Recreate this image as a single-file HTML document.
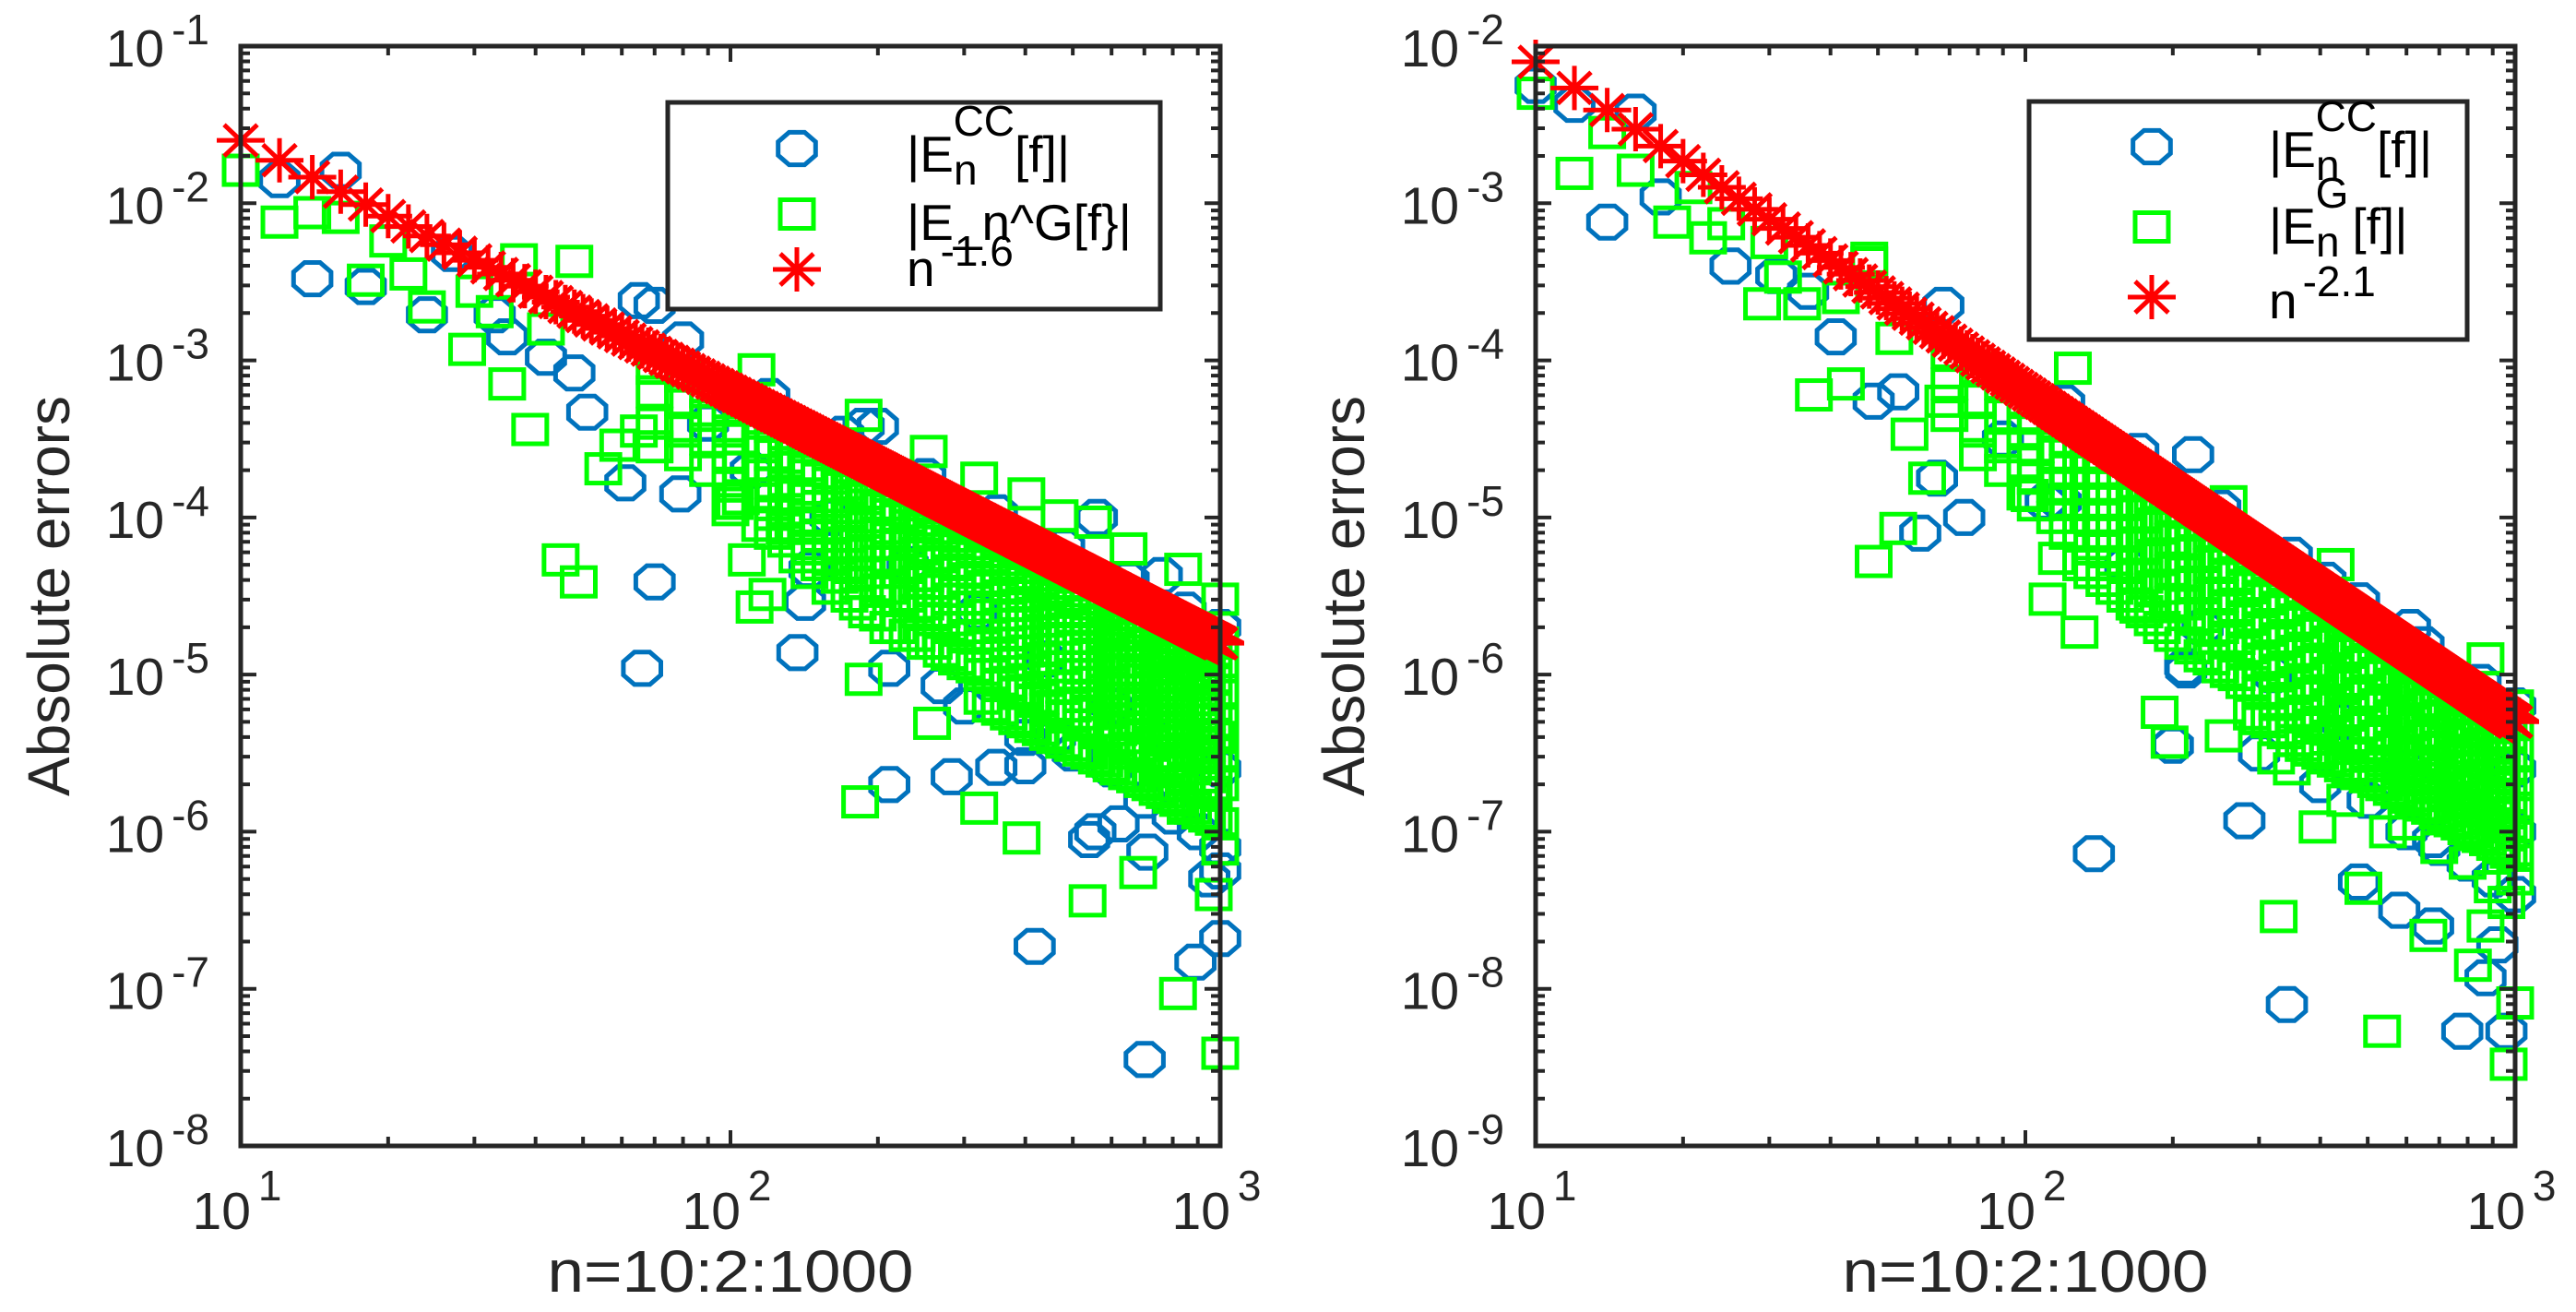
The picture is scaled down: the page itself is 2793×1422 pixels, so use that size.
<!DOCTYPE html>
<html>
<head>
<meta charset="utf-8">
<style>
html,body{margin:0;padding:0;background:#fff;}
svg{display:block;font-family:"Liberation Sans",Arial,sans-serif;}
</style>
</head>
<body>
<svg id="fig" width="2793" height="1422" viewBox="0 0 2793 1422" xmlns="http://www.w3.org/2000/svg">
  <rect x="0" y="0" width="2793" height="1422" fill="#fff"/>
  <g id="panelL"></g>
  <g id="panelR"></g>
</svg>
<script>
// ---------- data (log10 of absolute error) ----------
const leftYTicks = [-1,-2,-3,-4,-5,-6,-7,-8];
const rightYTicks = [-2,-3,-4,-5,-6,-7,-8,-9];
const xTickExps = [1,2,3];
const leftRefExponent = 1.6;
const rightRefExponent = 2.1;

const leftCC = [[12,-1.85],[16,-1.79],[14,-2.48],[18,-2.53],[24,-2.71],[27,-2.32],[33,-2.71],[35,-2.85],[42,-2.98],[48,-3.08],[51,-3.33],[70,-2.65],[61,-3.78],[79,-3.85],[70,-4.41],[66,-4.96],[137,-4.86],[142,-4.54],[145,-4.33],[211,-5.70],[283,-5.65],[349,-5.59],[418,-6.73],[556,-6.0],[701,-7.45],[890,-6.83],[1000,-6.68],[1000,-6.25],[710,-6.13],[211,-4.96],[270,-5.07],[400,-5.58],[460,-5.4],[80,-2.87],[65,-2.62],[187,-3.42],[200,-3.42],[560,-4.0],[760,-4.37],
[300,-5.2],[400,-5.4],[500,-5.5],[600,-5.6],[700,-5.8],[800,-5.9],[900,-6.0],[1000,-6.1],[540,-6.05],[620,-5.95],[950,-6.3],
[120,-3.23],[170,-3.47],[250,-3.74],[350,-3.97],[480,-4.19],[650,-4.40],[850,-4.59],[1000,-4.70],[90,-3.4],[110,-3.7],[160,-4.0],[230,-4.3],[320,-4.6],[440,-4.9],[600,-5.2],[800,-5.4],[1000,-5.6]];

const leftG = [[10,-1.79],[12,-2.12],[14,-2.06],[16,-2.09],[20,-2.24],[18,-2.49],[22,-2.45],[24,-2.66],[30,-2.56],[33,-2.69],[29,-2.93],[35,-3.15],[39,-3.44],[37,-2.36],[48,-2.37],[42,-2.8],[55,-3.69],[59,-3.54],[65,-3.45],[45,-4.27],[49,-4.41],[102,-3.91],[108,-4.27],[112,-4.57],[119,-4.49],[129,-4.07],[187,-5.03],[258,-5.31],[184,-5.81],[322,-5.85],[393,-6.04],[536,-6.44],[680,-6.26],[820,-7.03],[1000,-7.41],[1000,-6.11],[970,-6.4],[850,-5.85],[187,-3.35],[113,-3.06],[254,-3.58],[322,-3.75],[402,-3.85],[470,-3.99],[550,-4.03],[650,-4.2],[840,-4.33],[1000,-4.52],
[70,-3.05],[70,-3.2],[70,-3.4],[70,-3.55],[80,-3.1],[80,-3.25],[80,-3.45],[80,-3.6],[90,-3.2],[90,-3.35],[90,-3.5],[90,-3.7],
[100,-3.3],[100,-3.45],[100,-3.6],[100,-3.8],[100,-3.95],[115,-3.4],[115,-3.55],[115,-3.7],[115,-3.85],[115,-4.05],
[130,-3.5],[130,-3.65],[130,-3.8],[130,-3.95],[130,-4.15],[145,-3.55],[145,-3.7],[145,-3.85],[145,-4.0],[145,-4.2],[145,-4.35],
[160,-3.6],[160,-3.75],[160,-3.9],[160,-4.05],[160,-4.25],[160,-4.45],[175,-3.68],[175,-3.82],[175,-3.97],[175,-4.12],[175,-4.3],[175,-4.5],
[190,-3.74],[190,-3.88],[190,-4.03],[190,-4.18],[190,-4.35],[190,-4.6],[210,-3.8],[210,-3.95],[210,-4.1],[210,-4.25],[210,-4.45],[210,-4.7],
[230,-3.87],[230,-4.0],[230,-4.15],[230,-4.3],[230,-4.5],[230,-4.75],[250,-3.92],[250,-4.05],[250,-4.2],[250,-4.37],[250,-4.55],[250,-4.8],
[270,-3.97],[270,-4.1],[270,-4.25],[270,-4.42],[270,-4.6],[270,-4.85],[290,-4.02],[290,-4.15],[290,-4.3],[290,-4.47],[290,-4.65],[290,-4.9],
[315,-4.07],[315,-4.2],[315,-4.35],[315,-4.52],[315,-4.7],[315,-4.95],[340,-4.12],[340,-4.25],[340,-4.4],[340,-4.57],[340,-4.75],[340,-5.0],[340,-5.2],
[370,-4.18],[370,-4.3],[370,-4.45],[370,-4.62],[370,-4.8],[370,-5.05],[370,-5.25],[400,-4.23],[400,-4.36],[400,-4.5],[400,-4.67],[400,-4.85],[400,-5.1],[400,-5.3],
[430,-4.28],[430,-4.4],[430,-4.55],[430,-4.72],[430,-4.9],[430,-5.15],[430,-5.35],[460,-4.33],[460,-4.45],[460,-4.6],[460,-4.77],[460,-4.95],[460,-5.2],[460,-5.4],
[500,-4.38],[500,-4.5],[500,-4.65],[500,-4.82],[500,-5.0],[500,-5.2],[500,-5.45],[540,-4.43],[540,-4.55],[540,-4.7],[540,-4.87],[540,-5.05],[540,-5.25],[540,-5.5],
[580,-4.48],[580,-4.6],[580,-4.75],[580,-4.92],[580,-5.1],[580,-5.3],[580,-5.55],[620,-4.52],[620,-4.65],[620,-4.8],[620,-4.97],[620,-5.15],[620,-5.35],[620,-5.6],
[670,-4.57],[670,-4.7],[670,-4.85],[670,-5.0],[670,-5.2],[670,-5.4],[670,-5.65],[720,-4.62],[720,-4.75],[720,-4.9],[720,-5.05],[720,-5.25],[720,-5.45],[720,-5.7],
[770,-4.66],[770,-4.8],[770,-4.95],[770,-5.1],[770,-5.3],[770,-5.5],[770,-5.75],[820,-4.7],[820,-4.83],[820,-5.0],[820,-5.15],[820,-5.35],[820,-5.55],[820,-5.8],
[880,-4.74],[880,-4.87],[880,-5.03],[880,-5.2],[880,-5.4],[880,-5.6],[880,-5.85],[940,-4.77],[940,-4.9],[940,-5.06],[940,-5.25],[940,-5.45],[940,-5.65],[940,-5.9],
[1000,-4.8],[1000,-4.95],[1000,-5.1],[1000,-5.3],[1000,-5.5],[1000,-5.7],[1000,-5.95],
[600,-4.9],[700,-5.1],[800,-5.25],[900,-5.5],[960,-5.75],[650,-5.5],[750,-5.6],[850,-5.7],[980,-5.4]];

const leftGExtraN = [105,122,137,152,167,182,200,220,240,260,280,302,327,355,385,415,445,480,520,560,600,645,695,745,795,850,910,970];
const leftGExtraVals = [[-3.3,-3.5,-3.68,-3.88],[-3.42,-3.6,-3.78,-3.98,-4.1],[-3.5,-3.68,-3.86,-4.05,-4.25],[-3.57,-3.75,-3.93,-4.12,-4.3],[-3.63,-3.8,-3.98,-4.17,-4.38],[-3.7,-3.87,-4.05,-4.23,-4.42,-4.55],[-3.76,-3.93,-4.1,-4.28,-4.47,-4.62],[-3.83,-4.0,-4.17,-4.35,-4.53,-4.7],[-3.89,-4.06,-4.23,-4.41,-4.6,-4.75],[-3.94,-4.11,-4.28,-4.46,-4.65,-4.8],[-4.0,-4.17,-4.34,-4.52,-4.7,-4.87],[-4.05,-4.22,-4.39,-4.57,-4.76,-4.93],[-4.1,-4.27,-4.44,-4.62,-4.82,-5.0,-5.15],[-4.16,-4.33,-4.5,-4.68,-4.88,-5.07,-5.22],[-4.22,-4.39,-4.56,-4.74,-4.93,-5.12,-5.28],[-4.27,-4.44,-4.61,-4.79,-4.98,-5.17,-5.33],[-4.32,-4.49,-4.66,-4.84,-5.03,-5.22,-5.38],[-4.37,-4.54,-4.71,-4.89,-5.08,-5.27,-5.43],[-4.43,-4.6,-4.77,-4.95,-5.14,-5.32,-5.48],[-4.48,-4.65,-4.82,-5.0,-5.19,-5.37,-5.53],[-4.53,-4.7,-4.87,-5.05,-5.24,-5.42,-5.58],[-4.58,-4.75,-4.92,-5.1,-5.29,-5.47,-5.63],[-4.63,-4.8,-4.97,-5.15,-5.34,-5.52,-5.68],[-4.68,-4.85,-5.02,-5.2,-5.39,-5.57,-5.73],[-4.72,-4.89,-5.06,-5.24,-5.43,-5.61,-5.78],[-4.77,-4.94,-5.11,-5.29,-5.48,-5.66,-5.83],[-4.82,-4.99,-5.16,-5.34,-5.53,-5.71,-5.88],[-4.86,-5.03,-5.2,-5.38,-5.57,-5.75,-5.92]];

const rightCC = [[12,-2.37],[16,-2.42],[14,-3.12],[18,-2.96],[25,-3.4],[31,-3.46],[36,-3.56],[41,-3.85],[49,-4.26],[55,-4.2],[68,-3.65],[61,-5.1],[75,-5.0],[66,-4.75],[138,-7.14],[200,-6.45],[212,-5.95],[213,-5.97],[280,-6.93],[342,-8.1],[480,-7.32],[680,-7.6],[920,-7.72],[780,-8.27],[960,-8.27],[870,-7.93],[680,-7.05],[580,-7.5],[118,-4.9],[220,-4.6],[410,-5.4],[610,-5.7],[1000,-6.2],[1000,-6.6],
[300,-6.5],[400,-6.7],[500,-6.8],[600,-7.0],[700,-7.1],[800,-7.2],[900,-7.3],[1000,-7.4],[10,-2.25],
[120,-4.27],[170,-4.58],[250,-4.94],[350,-5.24],[480,-5.53],[650,-5.81],[850,-6.05],[1000,-6.2],[90,-4.5],[110,-4.9],[160,-5.3],[230,-5.7],[320,-6.0],[440,-6.3],[600,-6.6],[800,-6.85],[1000,-7.0]];

const rightG = [[10,-2.30],[12,-2.81],[14,-2.55],[16,-2.79],[19,-3.12],[21,-2.9],[22.5,-3.22],[24.5,-3.13],[30,-3.25],[32,-3.47],[29,-3.64],[35,-3.64],[42,-3.6],[48,-3.38],[37,-4.22],[43,-4.15],[54,-3.86],[58,-4.47],[68,-4.26],[63,-4.75],[55,-5.07],[49,-5.28],[102,-4.86],[111,-5.52],[116,-5.26],[129,-5.73],[170,-5.57],[188,-6.24],[197,-6.43],[254,-6.39],[325,-6.53],[329,-7.54],[395,-6.97],[490,-7.36],[535,-8.27],[665,-7.66],[820,-7.85],[970,-8.48],[1000,-8.09],[1000,-7.3],[870,-7.6],[125,-4.05],[260,-4.9],[430,-5.3],[870,-5.9],[1000,-6.2],[48,-3.35],
[70,-3.95],[70,-4.15],[70,-4.35],[80,-4.05],[80,-4.25],[80,-4.45],[80,-4.6],[90,-4.15],[90,-4.35],[90,-4.55],[90,-4.7],
[100,-4.25],[100,-4.45],[100,-4.65],[100,-4.85],[115,-4.4],[115,-4.6],[115,-4.8],[115,-5.0],
[130,-4.5],[130,-4.7],[130,-4.9],[130,-5.1],[130,-5.3],[145,-4.6],[145,-4.8],[145,-5.0],[145,-5.2],[145,-5.4],
[160,-4.7],[160,-4.9],[160,-5.1],[160,-5.3],[160,-5.5],[175,-4.78],[175,-4.98],[175,-5.18],[175,-5.38],[175,-5.6],
[190,-4.85],[190,-5.05],[190,-5.25],[190,-5.45],[190,-5.7],[210,-4.95],[210,-5.15],[210,-5.35],[210,-5.55],[210,-5.8],
[230,-5.03],[230,-5.23],[230,-5.43],[230,-5.63],[230,-5.88],[250,-5.1],[250,-5.3],[250,-5.5],[250,-5.7],[250,-5.95],
[270,-5.17],[270,-5.37],[270,-5.57],[270,-5.77],[270,-6.0],[290,-5.23],[290,-5.43],[290,-5.63],[290,-5.83],[290,-6.05],[290,-6.25],
[315,-5.3],[315,-5.5],[315,-5.7],[315,-5.9],[315,-6.1],[315,-6.3],[340,-5.37],[340,-5.57],[340,-5.77],[340,-5.97],[340,-6.17],[340,-6.37],
[370,-5.45],[370,-5.65],[370,-5.85],[370,-6.05],[370,-6.25],[370,-6.45],[400,-5.52],[400,-5.72],[400,-5.92],[400,-6.12],[400,-6.32],[400,-6.5],
[430,-5.58],[430,-5.78],[430,-5.98],[430,-6.18],[430,-6.38],[430,-6.55],[460,-5.64],[460,-5.84],[460,-6.04],[460,-6.24],[460,-6.44],[460,-6.6],
[500,-5.72],[500,-5.92],[500,-6.12],[500,-6.32],[500,-6.5],[500,-6.65],[540,-5.78],[540,-5.98],[540,-6.18],[540,-6.38],[540,-6.55],[540,-6.7],
[580,-5.85],[580,-6.05],[580,-6.25],[580,-6.45],[580,-6.6],[580,-6.75],[620,-5.9],[620,-6.1],[620,-6.3],[620,-6.5],[620,-6.65],[620,-6.8],
[670,-5.97],[670,-6.17],[670,-6.37],[670,-6.55],[670,-6.7],[670,-6.85],[720,-6.03],[720,-6.23],[720,-6.43],[720,-6.6],[720,-6.75],[720,-6.9],
[770,-6.1],[770,-6.3],[770,-6.5],[770,-6.65],[770,-6.8],[770,-6.95],[820,-6.15],[820,-6.35],[820,-6.55],[820,-6.7],[820,-6.85],[820,-7.0],
[880,-6.2],[880,-6.4],[880,-6.6],[880,-6.75],[880,-6.9],[880,-7.05],[940,-6.25],[940,-6.45],[940,-6.65],[940,-6.8],[940,-6.95],[940,-7.1],
[1000,-6.3],[1000,-6.5],[1000,-6.7],[1000,-6.85],[1000,-7.0],[1000,-7.15],
[600,-6.95],[700,-7.1],[800,-7.2],[900,-7.35],[960,-7.45],[350,-6.6],[450,-6.8],[550,-7.0]];

const rightGExtraN = [105,122,137,152,167,182,200,220,240,260,280,302,327,355,385,415,445,480,520,560,600,645,695,745,795,850,910,970];
const rightGExtraVals = [[-4.35,-4.55,-4.75,-4.92],[-4.5,-4.7,-4.9,-5.1],[-4.6,-4.8,-5.0,-5.2,-5.35],[-4.7,-4.9,-5.1,-5.3,-5.45],[-4.78,-4.98,-5.18,-5.38,-5.55],[-4.86,-5.06,-5.26,-5.46,-5.65],[-4.94,-5.14,-5.34,-5.54,-5.75],[-5.03,-5.23,-5.43,-5.63,-5.83],[-5.1,-5.3,-5.5,-5.7,-5.9],[-5.18,-5.38,-5.58,-5.78,-5.98],[-5.25,-5.45,-5.65,-5.85,-6.05],[-5.32,-5.52,-5.72,-5.92,-6.12,-6.28],[-5.39,-5.59,-5.79,-5.99,-6.19,-6.35],[-5.47,-5.67,-5.87,-6.07,-6.27,-6.42],[-5.54,-5.74,-5.94,-6.14,-6.34,-6.48],[-5.61,-5.81,-6.01,-6.21,-6.41,-6.53],[-5.67,-5.87,-6.07,-6.27,-6.47,-6.58],[-5.74,-5.94,-6.14,-6.34,-6.52,-6.63],[-5.81,-6.01,-6.21,-6.41,-6.58,-6.68],[-5.88,-6.08,-6.28,-6.48,-6.63,-6.73],[-5.94,-6.14,-6.34,-6.52,-6.67,-6.78],[-6.01,-6.21,-6.41,-6.58,-6.72,-6.83],[-6.08,-6.28,-6.48,-6.63,-6.77,-6.88],[-6.14,-6.34,-6.54,-6.68,-6.82,-6.93],[-6.2,-6.4,-6.6,-6.73,-6.87,-6.98],[-6.26,-6.46,-6.66,-6.78,-6.92,-7.03],[-6.32,-6.52,-6.72,-6.83,-6.97,-7.08],[-6.38,-6.58,-6.78,-6.88,-7.02,-7.13]];

// ---------- drawing ----------
const NS = 'http://www.w3.org/2000/svg';
const AX = '#262626';
function el(tag, attrs, parent){
  const e = document.createElementNS(NS, tag);
  for (const k in attrs) e.setAttribute(k, attrs[k]);
  if (parent) parent.appendChild(e);
  return e;
}
function expandCols(ns, vals){
  const out = [];
  ns.forEach((n, i) => vals[i].forEach(v => out.push([n, v])));
  return out;
}
function octPath(cx, cy){
  const rx = 22, ry = 19; let d = '';
  for (let i = 0; i < 8; i++){
    const a = (22.5 + 45*i) * Math.PI/180;
    d += (i ? 'L' : 'M') + (cx + rx*Math.cos(a)).toFixed(1) + ' ' + (cy + ry*Math.sin(a)).toFixed(1);
  }
  return d + 'Z';
}
function starPath(cx, cy){
  const w = 26, h = 24, dw = 18, dh = 17;
  return `M${cx-w} ${cy}L${cx+w} ${cy}M${cx} ${cy-h}L${cx} ${cy+h}M${cx-dw} ${cy-dh}L${cx+dw} ${cy+dh}M${cx-dw} ${cy+dh}L${cx+dw} ${cy-dh}`;
}

function drawPanel(g, cfg){
  const x0 = cfg.x0, x1 = cfg.x1, y0 = 50, y1 = 1242;
  const xOf = n => x0 + (Math.log10(n) - 1) / 2 * (x1 - x0);
  const yOf = e => y0 + (cfg.eTop - e) / 7 * (y1 - y0);

  const gCC = el('g', {}, g);
  
  
  cfg.cc.forEach(p => {
    const m = el('path', {d: octPath(xOf(p[0]), yOf(p[1])), fill: 'none', stroke: '#0072BD', 'stroke-width': 5}, gCC);
    
    
  });
  const gG = el('g', {}, g);
  
  
  cfg.gs.forEach(p => {
    const m = el('rect', {x: xOf(p[0]) - 18, y: yOf(p[1]) - 15.5, width: 36, height: 31, fill: 'none', stroke: '#00FF00', 'stroke-width': 5}, gG);
    
    
  });
  const gS = el('g', {}, g);
  
  
  for (let n = 10; n <= 1000; n += 2){
    const e = -cfg.p * Math.log10(n);
    const m = el('path', {d: starPath(xOf(n), yOf(e)), fill: 'none', stroke: '#FF0000', 'stroke-width': 5}, gS);
    
    
  }

  const box = el('rect', {x: x0, y: y0, width: x1 - x0, height: y1 - y0, fill: 'none', stroke: AX, 'stroke-width': 5}, g);
  
  

  let td = '';
  for (let k = 1; k <= 3; k++){
    const x = xOf(Math.pow(10, k));
    td += `M${x} ${y1}L${x} ${y1-17}M${x} ${y0}L${x} ${y0+17}`;
    if (k < 3) for (let m = 2; m <= 9; m++){
      const xm = xOf(m * Math.pow(10, k));
      td += `M${xm} ${y1}L${xm} ${y1-10}M${xm} ${y0}L${xm} ${y0+10}`;
    }
  }
  for (let d = 0; d <= 7; d++){
    const e = cfg.eTop - d, y = yOf(e);
    td += `M${x0} ${y}L${x0+17} ${y}M${x1} ${y}L${x1-17} ${y}`;
    if (d < 7) for (let m = 2; m <= 9; m++){
      const ym = yOf(e - 1 + Math.log10(m));
      td += `M${x0} ${ym}L${x0+10} ${ym}M${x1} ${ym}L${x1-10} ${ym}`;
    }
  }
  const ticks = el('path', {d: td, stroke: AX, 'stroke-width': 4, fill: 'none'}, g);
  
  

  cfg.yTicks.forEach(e => {
    const y = yOf(e);
    const t = el('text', {x: x0 - 34, y: y + 22, 'text-anchor': 'end', 'font-size': 57, fill: AX}, g);
    
    
    t.appendChild(document.createTextNode('10'));
    const s = el('tspan', {dx: 8, dy: -24, 'font-size': 46}, t);
    s.textContent = '-' + Math.abs(e);
  });
  xTickExps.forEach(k => {
    const t = el('text', {x: xOf(Math.pow(10, k)) - 4, y: 1332, 'text-anchor': 'middle', 'font-size': 57, fill: AX}, g);
    
    
    t.appendChild(document.createTextNode('10'));
    const s = el('tspan', {dx: 8, dy: -31, 'font-size': 46}, t);
    s.textContent = String(k);
  });
  const xt = el('text', {x: (x0 + x1) / 2, y: 1400, 'text-anchor': 'middle', 'font-size': 64, fill: AX, textLength: 397, lengthAdjust: 'spacingAndGlyphs'}, g);
  
  
  xt.textContent = 'n=10:2:1000';
  const yt = el('text', {x: 0, y: 0, 'text-anchor': 'middle', 'font-size': 64, fill: AX, transform: `translate(${x0-186},646) rotate(-90)`}, g);
  
  
  yt.textContent = 'Absolute errors';

  const L = cfg.leg;
  const lg = el('g', {}, g);
  
  
  el('rect', {x: L.x, y: L.y, width: L.w, height: L.h, fill: '#fff', stroke: AX, 'stroke-width': 5}, lg);
  const e1 = el('path', {d: octPath(L.mx, L.r[0]), fill: 'none', stroke: '#0072BD', 'stroke-width': 5}, lg);
  
  
  const e2 = el('rect', {x: L.mx - 18, y: L.r[1] - 15.5, width: 36, height: 31, fill: 'none', stroke: '#00FF00', 'stroke-width': 5}, lg);
  
  
  const e3 = el('path', {d: starPath(L.mx, L.r[2]), fill: 'none', stroke: '#FF0000', 'stroke-width': 5}, lg);
  
  
  lg.insertAdjacentHTML('beforeend', L.text);
}

drawPanel(document.getElementById('panelL'), {
  x0: 261, x1: 1323, eTop: -1, p: leftRefExponent, yTicks: leftYTicks, cc: leftCC,
  gs: leftG.concat(expandCols(leftGExtraN, leftGExtraVals)),
  leg: {x: 724, y: 111, w: 534, h: 224, mx: 864, r: [161, 232, 292],
    text: `<text x="983" y="186" font-size="55" fill="#000">|E<tspan dy="14" font-size="46">n</tspan><tspan dx="-26" dy="-53" font-size="46">CC</tspan><tspan dy="39">[f]|</tspan></text>
<text x="983" y="260" font-size="55" fill="#000">|E_n^G[f}|</text>
<text x="983" y="310" font-size="55" fill="#000">n<tspan dx="6" dy="-22" font-size="46">-1.6</tspan></text>`}
});
drawPanel(document.getElementById('panelR'), {
  x0: 1665, x1: 2727, eTop: -2, p: rightRefExponent, yTicks: rightYTicks, cc: rightCC,
  gs: rightG.concat(expandCols(rightGExtraN, rightGExtraVals)),
  leg: {x: 2200, y: 110, w: 475, h: 258, mx: 2333, r: [159, 246, 322],
    text: `<text x="2460" y="181" font-size="55" fill="#000">|E<tspan dy="14" font-size="46">n</tspan><tspan dx="-26" dy="-53" font-size="46">CC</tspan><tspan dy="39">[f]|</tspan></text>
<text x="2460" y="264" font-size="55" fill="#000">|E<tspan dy="14" font-size="46">n</tspan><tspan dx="-26" dy="-53" font-size="46">G</tspan><tspan dx="4" dy="39">[f]|</tspan></text>
<text x="2460" y="345" font-size="55" fill="#000">n<tspan dx="6" dy="-24" font-size="46">-2.1</tspan></text>`}
});
</script>
</body>
</html>
